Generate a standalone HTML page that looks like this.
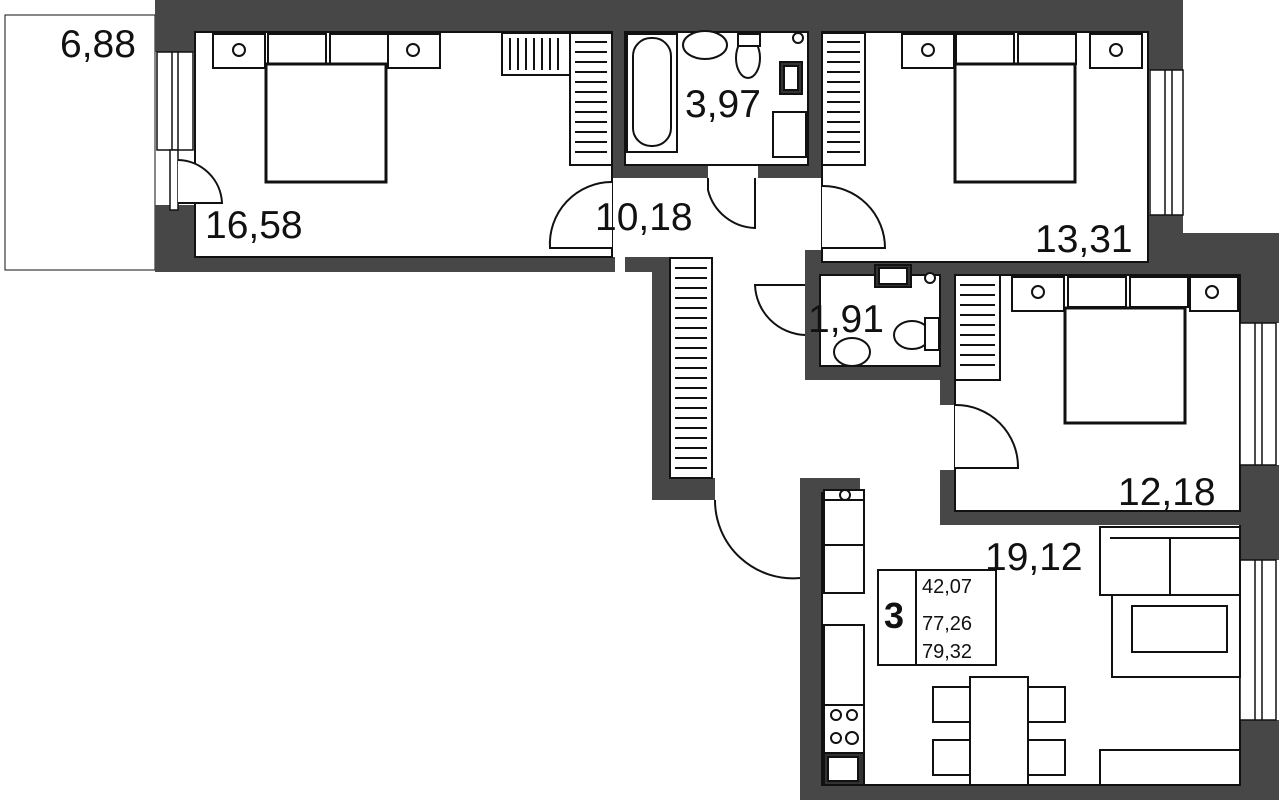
<!DOCTYPE html>
<html><head><meta charset="utf-8"><style>
html,body{margin:0;padding:0;background:#fff;width:1279px;height:800px;overflow:hidden}
svg{display:block}
text{font-family:"Liberation Sans",sans-serif;fill:#111}
</style></head><body>
<svg width="1279" height="800" viewBox="0 0 1279 800">
<g fill="#fff" stroke="#111" stroke-width="1.5">
<rect x="5" y="15" width="150" height="255" stroke-width="1"/>
</g>
<g fill="#474747">
<rect x="155" y="0" width="1028" height="32"/>
<rect x="155" y="0" width="40" height="52"/>
<rect x="155" y="205" width="40" height="67"/>
<rect x="155" y="257" width="460" height="15"/>
<rect x="625" y="257" width="45" height="15"/>
<rect x="652" y="257" width="18" height="243"/>
<rect x="652" y="478" width="63" height="22"/>
<rect x="612" y="32" width="13" height="145"/>
<rect x="808" y="32" width="14" height="145"/>
<rect x="612" y="165" width="96" height="13"/>
<rect x="758" y="165" width="64" height="13"/>
<rect x="1148" y="0" width="35" height="70"/>
<rect x="1148" y="215" width="35" height="60"/>
<rect x="1148" y="233" width="131" height="42"/>
<rect x="805" y="250" width="343" height="25" />
<rect x="805" y="250" width="15" height="130"/>
<rect x="805" y="366" width="150" height="14"/>
<rect x="940" y="262" width="15" height="143"/>
<rect x="940" y="470" width="15" height="55"/>
<rect x="940" y="511" width="300" height="14"/>
<rect x="1240" y="233" width="39" height="90"/>
<rect x="1240" y="465" width="39" height="95"/>
<rect x="1240" y="720" width="39" height="80"/>
<rect x="800" y="478" width="22" height="322"/>
<rect x="800" y="478" width="60" height="14"/>
<rect x="800" y="785" width="479" height="15"/>
</g>
<rect x="822" y="32" width="326" height="230" fill="#fff"/>
<rect x="195" y="32" width="417" height="225" fill="#fff"/>
<rect x="955" y="275" width="285" height="236" fill="#fff"/>
<g fill="none" stroke="#111" stroke-width="2">
<rect x="195" y="32" width="417" height="225"/>
<rect x="822" y="32" width="326" height="230"/>
<rect x="955" y="275" width="285" height="236"/>
<rect x="625" y="32" width="183" height="133"/>
<rect x="820" y="275" width="120" height="91"/>
<polyline points="822,492 822,785 1240,785 1240,525"/>
</g>
<g fill="#fff" stroke="#111" stroke-width="1.5">
<rect x="157" y="52" width="36" height="98"/><line x1="172" y1="52" x2="172" y2="150"/><line x1="178" y1="52" x2="178" y2="150"/>
<rect x="170" y="150" width="8" height="60"/>
<rect x="1150" y="70" width="33" height="145"/><line x1="1165" y1="70" x2="1165" y2="215"/><line x1="1172" y1="70" x2="1172" y2="215"/>
<rect x="1240" y="323" width="36" height="142"/><line x1="1255" y1="323" x2="1255" y2="465"/><line x1="1262" y1="323" x2="1262" y2="465"/>
<rect x="1240" y="560" width="36" height="160"/><line x1="1255" y1="560" x2="1255" y2="720"/><line x1="1262" y1="560" x2="1262" y2="720"/>
</g>
<g fill="#fff" stroke="#111" stroke-width="2">
<path d="M178 160 A45 45 0 0 1 222 203 L178 203"/>
<path d="M612 248 L550 248 A62 62 0 0 1 612 182"/>
<path d="M708 178 L708 190 A50 50 0 0 0 755 228 L755 178"/>
<path d="M822 248 L885 248 A62 62 0 0 0 822 186"/>
<path d="M805 285 L755 285 A52 52 0 0 0 805 335"/>
<path d="M955 405 A62 62 0 0 1 1018 468 L955 468"/>
<path d="M715 500 L715 500 A78 78 0 0 0 800 578"/>
</g>
<g fill="#fff" stroke="#111" stroke-width="2">
<rect x="213" y="34" width="52" height="34"/><rect x="388" y="34" width="52" height="34"/>
<rect x="268" y="34" width="58" height="30"/><rect x="330" y="34" width="58" height="30"/>
<rect x="266" y="64" width="120" height="118" stroke-width="3"/>
<rect x="902" y="34" width="52" height="34"/><rect x="1090" y="34" width="52" height="34"/>
<rect x="956" y="34" width="58" height="30"/><rect x="1018" y="34" width="58" height="30"/>
<rect x="955" y="64" width="120" height="118" stroke-width="3"/>
<rect x="1012" y="277" width="52" height="34"/><rect x="1190" y="277" width="48" height="34"/>
<rect x="1068" y="277" width="58" height="30"/><rect x="1130" y="277" width="58" height="30"/>
<rect x="1065" y="308" width="120" height="115" stroke-width="3"/>
<circle cx="239" cy="50" r="6"/><circle cx="413" cy="50" r="6"/>
<circle cx="928" cy="50" r="6"/><circle cx="1116" cy="50" r="6"/>
<circle cx="1038" cy="292" r="6"/><circle cx="1212" cy="292" r="6"/>
</g>
<g fill="#fff" stroke="#111" stroke-width="2">
<rect x="570" y="33" width="42" height="132"/>
<rect x="822" y="33" width="43" height="132"/>
<rect x="670" y="258" width="42" height="220"/>
<rect x="955" y="275" width="45" height="105"/>
<rect x="502" y="33" width="68" height="42"/>
</g>
<g stroke="#111" stroke-width="2">
<path d="M575 42h32M575 52h32M575 62h32M575 72h32M575 82h32M575 92h32M575 102h32M575 112h32M575 122h32M575 132h32M575 142h32M575 152h32"/>
<path d="M827 42h33M827 52h33M827 62h33M827 72h33M827 82h33M827 92h33M827 102h33M827 112h33M827 122h33M827 132h33M827 142h33M827 152h33"/>
<path d="M675 268h32M675 278h32M675 288h32M675 298h32M675 308h32M675 318h32M675 328h32M675 338h32M675 348h32M675 358h32M675 368h32M675 378h32M675 388h32M675 398h32M675 408h32M675 418h32M675 428h32M675 438h32M675 448h32M675 458h32M675 468h32"/>
<path d="M960 285h35M960 295h35M960 305h35M960 315h35M960 325h35M960 335h35M960 345h35M960 355h35M960 365h35"/>
<path d="M510 38v32M518 38v32M526 38v32M534 38v32M542 38v32M550 38v32M558 38v32"/>
</g>
<g fill="#fff" stroke="#111" stroke-width="2">
<rect x="627" y="34" width="50" height="118"/>
<rect x="633" y="38" width="38" height="108" rx="18"/>
<ellipse cx="705" cy="45" rx="22" ry="14"/>
<ellipse cx="748" cy="58" rx="12" ry="20"/>
<rect x="738" y="34" width="22" height="12"/>
<circle cx="798" cy="38" r="5"/>
<rect x="780" y="62" width="22" height="32" fill="#333"/><rect x="784" y="66" width="14" height="24"/>
<rect x="773" y="112" width="33" height="45"/>
<rect x="875" y="265" width="36" height="22" fill="#333"/><rect x="879" y="268" width="28" height="16"/>
<circle cx="930" cy="278" r="5"/>
<ellipse cx="912" cy="335" rx="18" ry="14"/>
<rect x="925" y="318" width="14" height="32"/>
<ellipse cx="852" cy="352" rx="18" ry="14"/>
</g>
<g fill="#fff" stroke="#111" stroke-width="2">
<rect x="824" y="490" width="40" height="10"/><circle cx="845" cy="495" r="5"/>
<rect x="824" y="500" width="40" height="45"/>
<rect x="824" y="545" width="40" height="48"/>
<rect x="824" y="625" width="40" height="80"/>
<rect x="824" y="705" width="40" height="48"/>
<circle cx="836" cy="715" r="5"/><circle cx="852" cy="715" r="5"/><circle cx="836" cy="738" r="5"/><circle cx="852" cy="738" r="6"/>
<rect x="824" y="753" width="40" height="32" fill="#333"/><rect x="828" y="757" width="30" height="24"/>
<rect x="1100" y="527" width="140" height="68"/>
<line x1="1110" y1="538" x2="1240" y2="538"/><line x1="1170" y1="538" x2="1170" y2="595"/>
<rect x="1112" y="595" width="128" height="82"/>
<rect x="1132" y="606" width="95" height="46"/>
<rect x="1100" y="750" width="140" height="35"/>
<rect x="970" y="677" width="58" height="108"/>
<rect x="933" y="687" width="37" height="35"/><rect x="933" y="740" width="37" height="35"/>
<rect x="1028" y="687" width="37" height="35"/><rect x="1028" y="740" width="37" height="35"/>
<rect x="878" y="570" width="118" height="95"/>
<line x1="916" y1="570" x2="916" y2="665"/>
</g>
<g font-size="39">
<text x="60" y="57">6,88</text>
<text x="205" y="238">16,58</text>
<text x="595" y="230">10,18</text>
<text x="685" y="117">3,97</text>
<text x="1035" y="252">13,31</text>
<text x="808" y="332">1,91</text>
<text x="1118" y="505">12,18</text>
<text x="985" y="570">19,12</text>
</g>
<text x="884" y="628" font-size="36" font-weight="bold">3</text>
<g font-size="20"><text x="922" y="593">42,07</text><text x="922" y="630">77,26</text><text x="922" y="658">79,32</text></g>
</svg>
</body></html>
